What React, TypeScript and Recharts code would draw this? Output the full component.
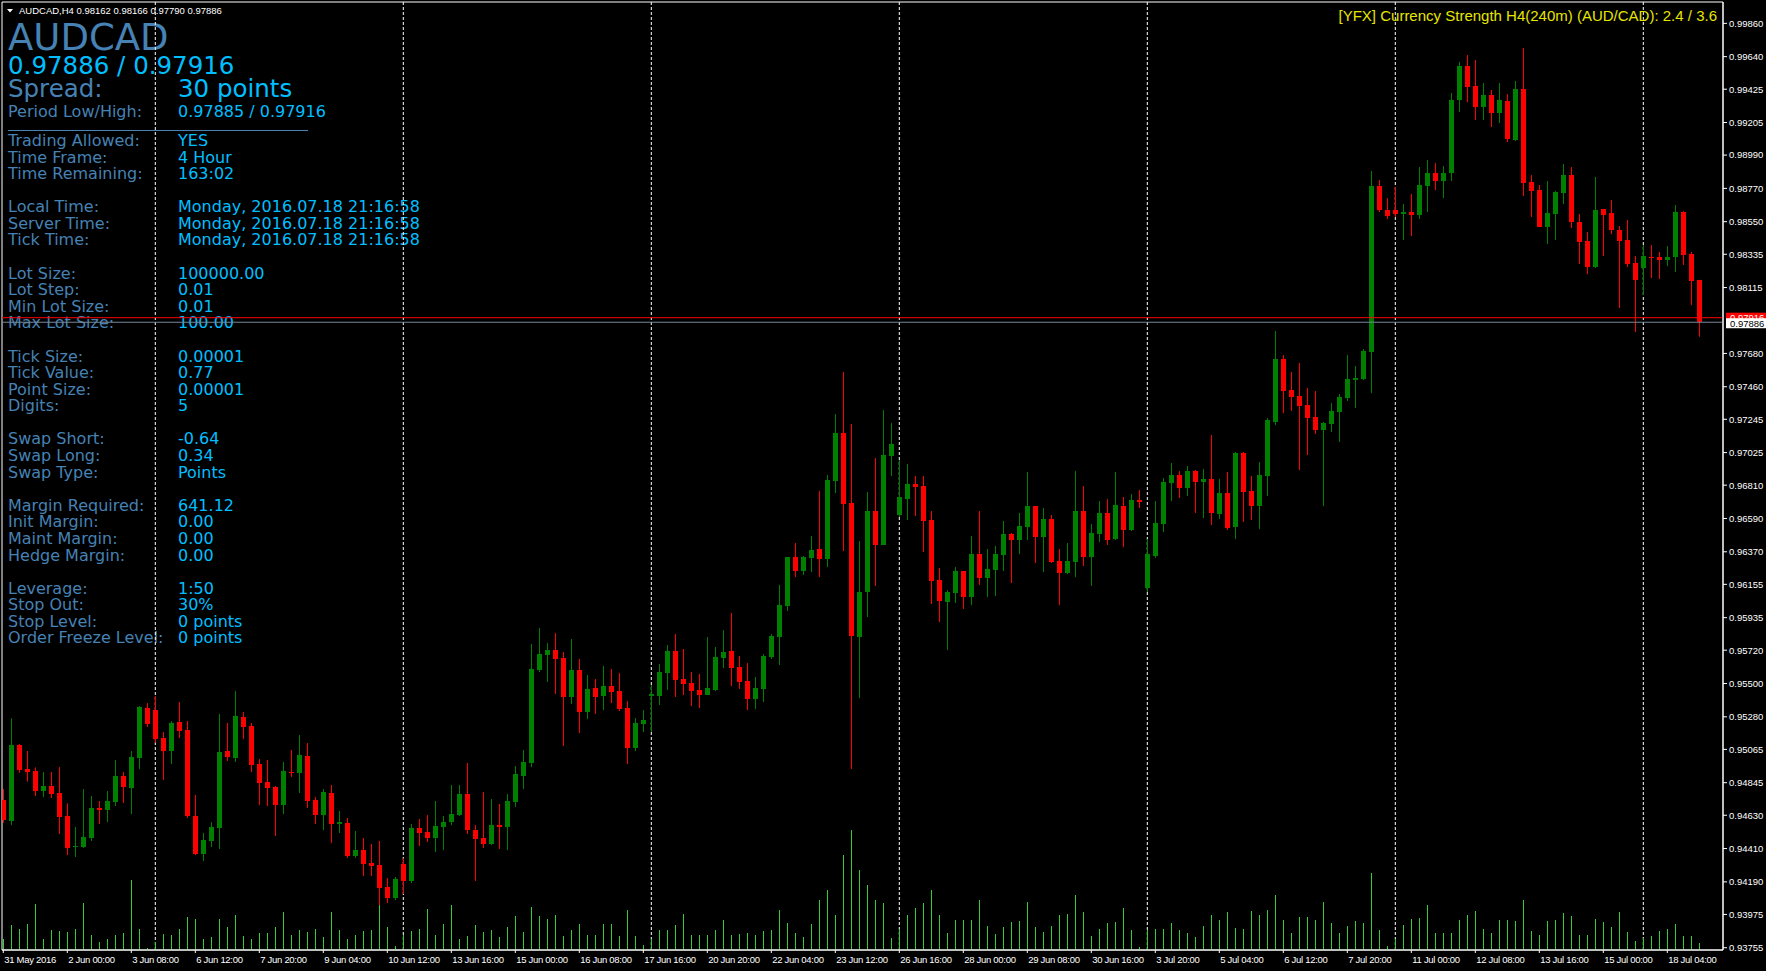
import { ComposedChart, Bar, XAxis, YAxis, ReferenceLine, ReferenceArea } from 'recharts';

// AUDCAD H4, 31 May – 18 Jul 2016 (one entry per 4h bar)
const opens = [
  0.94730, 0.94592, 0.95094, 0.94935, 0.94922, 0.94790, 0.94823, 0.94777, 0.94625, 0.94420,
  0.94420, 0.94480, 0.94680, 0.94664, 0.94717, 0.94889, 0.94810, 0.95008, 0.95338, 0.95325,
  0.95140, 0.95054, 0.95246, 0.95193, 0.94625, 0.94374, 0.94460, 0.94546, 0.95054, 0.95008,
  0.95279, 0.95219, 0.94968, 0.94849, 0.94816, 0.94698, 0.94915, 0.94909, 0.95021, 0.94730,
  0.94632, 0.94777, 0.94574, 0.94579, 0.94361, 0.94400, 0.94314, 0.94301, 0.94156, 0.94083,
  0.94308, 0.94196, 0.94546, 0.94519, 0.94480, 0.94552, 0.94585, 0.94631, 0.94770, 0.94532,
  0.94480, 0.94440, 0.94565, 0.94552, 0.94717, 0.94889, 0.94975, 0.95589, 0.95688, 0.95721,
  0.95668, 0.95411, 0.95589, 0.95312, 0.95470, 0.95417, 0.95483, 0.95450, 0.95338, 0.95074,
  0.95232, 0.95417, 0.95417, 0.95569, 0.95714, 0.95530, 0.95503, 0.95457, 0.95424, 0.95457,
  0.95668, 0.95715, 0.95609, 0.95517, 0.95398, 0.95464, 0.95675, 0.95807, 0.96012, 0.96335,
  0.96243, 0.96329, 0.96388, 0.96322, 0.96837, 0.97154, 0.96692, 0.95807, 0.96104, 0.96639,
  0.96415, 0.97002, 0.96613, 0.96718, 0.96818, 0.96804, 0.96580, 0.96184, 0.96038, 0.96098,
  0.96243, 0.96071, 0.96355, 0.96197, 0.96250, 0.96349, 0.96487, 0.96448, 0.96534, 0.96672,
  0.96467, 0.96586, 0.96309, 0.96230, 0.96302, 0.96639, 0.96335, 0.96487, 0.96626, 0.96454,
  0.96672, 0.96514, 0.96712, 0.96131, 0.96342, 0.96553, 0.96824, 0.96877, 0.96791, 0.96903,
  0.96831, 0.96851, 0.96619, 0.96758, 0.96534, 0.97022, 0.96771, 0.96672, 0.96870, 0.97227,
  0.97643, 0.97438, 0.97399, 0.97339, 0.97260, 0.97174, 0.97214, 0.97293, 0.97385, 0.97504,
  0.97511, 0.97689, 0.98786, 0.98627, 0.98627, 0.98603, 0.98614, 0.98594, 0.98786, 0.98871,
  0.98819, 0.98871, 0.99354, 0.99578, 0.99446, 0.99307, 0.99387, 0.99268, 0.99347, 0.99089,
  0.99426, 0.98812, 0.98759, 0.98515, 0.98601, 0.98739, 0.98858, 0.98548, 0.98422, 0.98251,
  0.98634, 0.98607, 0.98495, 0.98429, 0.98277, 0.98244, 0.98317, 0.98317, 0.98297, 0.98317,
  0.98614, 0.98336, 0.98162,
];

const highs = [
  0.94803, 0.95270, 0.95100, 0.95054, 0.94946, 0.94915, 0.94915, 0.94948, 0.94708, 0.94552,
  0.94803, 0.94757, 0.94724, 0.94790, 0.94995, 0.94915, 0.95054, 0.95351, 0.95371, 0.95417,
  0.95180, 0.95252, 0.95378, 0.95252, 0.94764, 0.94513, 0.94585, 0.95299, 0.95239, 0.95450,
  0.95312, 0.95239, 0.95001, 0.94995, 0.94823, 0.94982, 0.95061, 0.95160, 0.95107, 0.94750,
  0.94803, 0.94830, 0.94658, 0.94612, 0.94526, 0.94480, 0.94440, 0.94460, 0.94215, 0.94222,
  0.94345, 0.94572, 0.94605, 0.94631, 0.94724, 0.94625, 0.94830, 0.94830, 0.94975, 0.94565,
  0.94783, 0.94737, 0.94704, 0.94770, 0.94955, 0.95061, 0.95761, 0.95866, 0.95767, 0.95833,
  0.95708, 0.95794, 0.95662, 0.95556, 0.95530, 0.95616, 0.95596, 0.95569, 0.95384, 0.95272,
  0.95325, 0.95490, 0.95629, 0.95754, 0.95827, 0.95728, 0.95576, 0.95563, 0.95807, 0.95741,
  0.95853, 0.95966, 0.95682, 0.95635, 0.95543, 0.95695, 0.95827, 0.96151, 0.96335, 0.96428,
  0.96342, 0.96474, 0.96771, 0.96877, 0.97280, 0.97557, 0.97214, 0.96441, 0.96765, 0.96989,
  0.97306, 0.97220, 0.96976, 0.96950, 0.96870, 0.96870, 0.96639, 0.96263, 0.96117, 0.96269,
  0.96243, 0.96474, 0.96639, 0.96388, 0.96408, 0.96573, 0.96494, 0.96626, 0.96897, 0.96672,
  0.96659, 0.96613, 0.96388, 0.96428, 0.96903, 0.96804, 0.96553, 0.96705, 0.96718, 0.96897,
  0.96732, 0.96751, 0.96778, 0.96454, 0.96705, 0.96857, 0.96956, 0.96903, 0.96936, 0.96910,
  0.96917, 0.97141, 0.96851, 0.96897, 0.97029, 0.97029, 0.96870, 0.96963, 0.97253, 0.97828,
  0.97669, 0.97557, 0.97617, 0.97451, 0.97432, 0.97227, 0.97352, 0.97412, 0.97669, 0.97597,
  0.97709, 0.98885, 0.98825, 0.98706, 0.98779, 0.98667, 0.98733, 0.98911, 0.98957, 0.98937,
  0.98918, 0.99400, 0.99605, 0.99651, 0.99618, 0.99466, 0.99420, 0.99466, 0.99393, 0.99479,
  0.99697, 0.98858, 0.98792, 0.98819, 0.98753, 0.98931, 0.98911, 0.98601, 0.98482, 0.98845,
  0.98634, 0.98693, 0.98521, 0.98561, 0.98323, 0.98396, 0.98396, 0.98350, 0.98389, 0.98660,
  0.98620, 0.98350, 0.98166,
];

const lows = [
  0.94581, 0.94565, 0.94911, 0.94852, 0.94757, 0.94750, 0.94744, 0.94506, 0.94367, 0.94354,
  0.94414, 0.94460, 0.94572, 0.94585, 0.94691, 0.94711, 0.94638, 0.94935, 0.95213, 0.95109,
  0.94863, 0.94968, 0.95140, 0.94612, 0.94367, 0.94328, 0.94420, 0.94407, 0.94988, 0.94982,
  0.95133, 0.94915, 0.94698, 0.94691, 0.94493, 0.94638, 0.94883, 0.94777, 0.94678, 0.94572,
  0.94532, 0.94447, 0.94513, 0.94348, 0.94348, 0.94229, 0.94229, 0.94037, 0.94050, 0.94070,
  0.94110, 0.94182, 0.94427, 0.94453, 0.94387, 0.94400, 0.94565, 0.94625, 0.94506, 0.94196,
  0.94414, 0.94433, 0.94407, 0.94400, 0.94684, 0.94803, 0.94948, 0.95576, 0.95510, 0.95431,
  0.95087, 0.95365, 0.95173, 0.95265, 0.95299, 0.95325, 0.95371, 0.95318, 0.94968, 0.95054,
  0.95180, 0.95180, 0.95358, 0.95457, 0.95411, 0.95424, 0.95351, 0.95338, 0.95424, 0.95450,
  0.95602, 0.95483, 0.95464, 0.95325, 0.95332, 0.95378, 0.95662, 0.95622, 0.95979, 0.96203,
  0.96217, 0.96236, 0.96203, 0.96269, 0.96758, 0.96375, 0.94935, 0.95404, 0.95939, 0.96144,
  0.96415, 0.96870, 0.96600, 0.96580, 0.96606, 0.96368, 0.96025, 0.95906, 0.95721, 0.96032,
  0.95992, 0.96018, 0.96151, 0.96071, 0.96078, 0.96243, 0.96164, 0.96355, 0.96448, 0.96296,
  0.96236, 0.96296, 0.96018, 0.96223, 0.96203, 0.96276, 0.96144, 0.96434, 0.96415, 0.96448,
  0.96401, 0.96507, 0.96659, 0.96104, 0.96329, 0.96500, 0.96705, 0.96725, 0.96738, 0.96626,
  0.96593, 0.96547, 0.96586, 0.96514, 0.96454, 0.96567, 0.96580, 0.96520, 0.96738, 0.97207,
  0.97286, 0.97300, 0.96910, 0.97009, 0.97148, 0.96672, 0.97161, 0.97095, 0.97366, 0.97319,
  0.97504, 0.97418, 0.98614, 0.98568, 0.98581, 0.98429, 0.98455, 0.98568, 0.98614, 0.98759,
  0.98706, 0.98819, 0.99274, 0.99340, 0.99221, 0.99221, 0.99175, 0.99202, 0.99076, 0.99083,
  0.98720, 0.98581, 0.98515, 0.98403, 0.98429, 0.98667, 0.98508, 0.98270, 0.98204, 0.98244,
  0.98323, 0.98468, 0.97980, 0.98251, 0.97821, 0.98066, 0.98178, 0.98171, 0.98257, 0.98218,
  0.98264, 0.97999, 0.97790,
];

const closes = [
  0.94598, 0.95094, 0.94929, 0.94918, 0.94790, 0.94823, 0.94770, 0.94618, 0.94414, 0.94427,
  0.94486, 0.94678, 0.94667, 0.94724, 0.94889, 0.94816, 0.95014, 0.95345, 0.95232, 0.95133,
  0.95054, 0.95239, 0.95186, 0.94625, 0.94374, 0.94466, 0.94552, 0.95048, 0.95014, 0.95285,
  0.95213, 0.94962, 0.94843, 0.94810, 0.94698, 0.94922, 0.94909, 0.95028, 0.94724, 0.94632,
  0.94783, 0.94572, 0.94585, 0.94361, 0.94400, 0.94308, 0.94295, 0.94149, 0.94083, 0.94209,
  0.94196, 0.94546, 0.94513, 0.94480, 0.94559, 0.94585, 0.94638, 0.94770, 0.94532, 0.94473,
  0.94440, 0.94565, 0.94552, 0.94724, 0.94902, 0.94981, 0.95596, 0.95695, 0.95721, 0.95662,
  0.95411, 0.95589, 0.95312, 0.95464, 0.95411, 0.95483, 0.95444, 0.95332, 0.95074, 0.95239,
  0.95259, 0.95431, 0.95576, 0.95714, 0.95523, 0.95497, 0.95450, 0.95424, 0.95470, 0.95675,
  0.95708, 0.95602, 0.95510, 0.95398, 0.95470, 0.95682, 0.95814, 0.96018, 0.96335, 0.96243,
  0.96335, 0.96382, 0.96322, 0.96844, 0.97154, 0.96685, 0.95814, 0.96104, 0.96639, 0.96415,
  0.97009, 0.97082, 0.96732, 0.96818, 0.96798, 0.96573, 0.96177, 0.96045, 0.96104, 0.96243,
  0.96071, 0.96355, 0.96197, 0.96256, 0.96355, 0.96487, 0.96448, 0.96540, 0.96672, 0.96468,
  0.96586, 0.96302, 0.96230, 0.96309, 0.96639, 0.96335, 0.96494, 0.96626, 0.96448, 0.96679,
  0.96514, 0.96712, 0.96699, 0.96355, 0.96560, 0.96831, 0.96877, 0.96791, 0.96903, 0.96831,
  0.96851, 0.96626, 0.96758, 0.96527, 0.97022, 0.96765, 0.96672, 0.96877, 0.97240, 0.97643,
  0.97432, 0.97392, 0.97333, 0.97253, 0.97174, 0.97220, 0.97300, 0.97392, 0.97511, 0.97518,
  0.97696, 0.98786, 0.98627, 0.98590, 0.98601, 0.98614, 0.98594, 0.98792, 0.98871, 0.98819,
  0.98871, 0.99354, 0.99578, 0.99439, 0.99307, 0.99387, 0.99268, 0.99354, 0.99096, 0.99426,
  0.98805, 0.98753, 0.98515, 0.98607, 0.98746, 0.98858, 0.98548, 0.98416, 0.98251, 0.98627,
  0.98594, 0.98495, 0.98422, 0.98270, 0.98165, 0.98323, 0.98310, 0.98297, 0.98317, 0.98614,
  0.98330, 0.98158, 0.97886,
];

// tick volume per bar
const volumes = [
  440, 1000, 840, 1040, 1840, 440, 800, 760, 720, 840,
  1880, 600, 320, 440, 600, 680, 2800, 840, 80, 320,
  640, 600, 840, 1320, 1240, 440, 520, 1240, 920, 1400,
  560, 440, 680, 680, 920, 1520, 600, 800, 720, 840,
  520, 1520, 800, 440, 600, 760, 800, 1800, 920, 160,
  600, 760, 840, 1640, 600, 1040, 1800, 440, 560, 1000,
  720, 800, 520, 920, 1360, 720, 1720, 1360, 1240, 1400,
  560, 800, 1040, 600, 600, 1040, 1040, 560, 1600, 560,
  200, 440, 800, 800, 1000, 1440, 600, 600, 600, 800,
  1200, 600, 640, 680, 600, 760, 800, 1600, 1080, 680,
  520, 1040, 2000, 2400, 1400, 3800, 4800, 3200, 2600, 2000,
  1880, 480, 840, 1400, 1680, 1880, 2400, 1400, 680, 1200,
  1200, 1200, 2000, 960, 640, 920, 1120, 1160, 1920, 920,
  720, 960, 1400, 1440, 2200, 1520, 560, 840, 1080, 1120,
  1680, 800, 120, 800, 840, 840, 1080, 800, 680, 520,
  960, 1400, 1200, 1520, 880, 840, 1560, 1400, 1600, 2200,
  1200, 680, 1320, 1320, 1200, 1920, 1080, 680, 960, 1160,
  1080, 3080, 800, 160, 440, 1000, 1240, 1280, 1800, 680,
  680, 680, 1200, 1400, 1560, 840, 680, 1200, 1200, 1160,
  2000, 760, 600, 1160, 1200, 1480, 1360, 600, 600, 1240,
  1120, 920, 1520, 720, 360, 480, 560, 760, 840, 1040,
  560, 560, 280,
];

// one time label every 8 bars
const timeLabels = [
  '31 May 2016', '2 Jun 00:00', '3 Jun 08:00', '6 Jun 12:00', '7 Jun 20:00', '9 Jun 04:00',
  '10 Jun 12:00', '13 Jun 16:00', '15 Jun 00:00', '16 Jun 08:00', '17 Jun 16:00', '20 Jun 20:00',
  '22 Jun 04:00', '23 Jun 12:00', '26 Jun 16:00', '28 Jun 00:00', '29 Jun 08:00', '30 Jun 16:00',
  '3 Jul 20:00', '5 Jul 04:00', '6 Jul 12:00', '7 Jul 20:00', '11 Jul 00:00', '12 Jul 08:00',
  '13 Jul 16:00', '15 Jul 00:00', '18 Jul 04:00',
];

const priceTicks = [
  0.99860, 0.99640, 0.99425, 0.99205, 0.98990, 0.98770, 0.98550, 0.98335, 0.98115,
  0.97680, 0.97460, 0.97245, 0.97025, 0.96810, 0.96590, 0.96370, 0.96155, 0.95935,
  0.95720, 0.95500, 0.95280, 0.95065, 0.94845, 0.94630, 0.94410, 0.94190, 0.93975, 0.93755,
];

// bar indexes where a new week starts (dotted separators)
const weekStarts = [19, 50, 81, 112, 143, 174, 205];

const BID = 0.97886;
const ASK = 0.97916;

const infoGroups: [string, string][][] = [
  [['Trading Allowed:', 'YES'], ['Time Frame:', '4 Hour'], ['Time Remaining:', '163:02']],
  [
    ['Local Time:', 'Monday, 2016.07.18 21:16:58'],
    ['Server Time:', 'Monday, 2016.07.18 21:16:58'],
    ['Tick Time:', 'Monday, 2016.07.18 21:16:58'],
  ],
  [['Lot Size:', '100000.00'], ['Lot Step:', '0.01'], ['Min Lot Size:', '0.01'], ['Max Lot Size:', '100.00']],
  [['Tick Size:', '0.00001'], ['Tick Value:', '0.77'], ['Point Size:', '0.00001'], ['Digits:', '5']],
  [['Swap Short:', '-0.64'], ['Swap Long:', '0.34'], ['Swap Type:', 'Points']],
  [['Margin Required:', '641.12'], ['Init Margin:', '0.00'], ['Maint Margin:', '0.00'], ['Hedge Margin:', '0.00']],
  [['Leverage:', '1:50'], ['Stop Out:', '30%'], ['Stop Level:', '0 points'], ['Order Freeze Level:', '0 points']],
];

const candles = opens.map((open, i) => ({
  i,
  open,
  high: highs[i],
  low: lows[i],
  close: closes[i],
  range: [lows[i], highs[i]],
  volume: volumes[i],
}));

const W = 1766;
const H = 971;
const X_DOMAIN: [number, number] = [-0.1625, 214.9625];
const P_DOMAIN: [number, number] = [0.9374, 1.00001];
const BULL = '#008000';
const BEAR = '#ff0000';
const LABEL = '#4682b4';
const VALUE = '#00bfff';
const AXIS_FONT = '"Liberation Sans", Arial, sans-serif';
const INFO_FONT = '"DejaVu Sans", Verdana, sans-serif';

const CandleShape = (props: any) => {
  const { x, y, width, height, payload } = props;
  if (payload == null) return null;
  const { open, close, high, low } = payload;
  const top = Math.min(y, y + height);
  const h = Math.abs(height);
  const cx = Math.round(x + width / 2);
  const k = high - low > 0 ? h / (high - low) : 0;
  const yo = top + (high - open) * k;
  const yc = top + (high - close) * k;
  const color = close >= open ? BULL : BEAR;
  const bodyTop = Math.round(Math.min(yo, yc));
  const bodyH = Math.max(1, Math.round(Math.abs(yc - yo)));
  return (
    <g>
      <line x1={cx + 0.5} x2={cx + 0.5} y1={top} y2={top + h} stroke={color} strokeWidth={1} />
      <rect x={cx - 2} y={bodyTop} width={5} height={bodyH} fill={color} />
    </g>
  );
};

const VolumeShape = (props: any) => {
  const { x, y, width, height } = props;
  const cx = Math.round(x + width / 2);
  return <line x1={cx + 0.5} x2={cx + 0.5} y1={y} y2={y + height} stroke="#32cd32" strokeWidth={1} />;
};

const TimeTick = (props: any) => {
  const { x, y, payload } = props;
  const label = timeLabels[Math.round(payload.value / 8)];
  return (
    <text x={x + 1} y={y + 8} fill="#ffffff" fontSize={9.5} fontFamily={AXIS_FONT} letterSpacing={-0.3} textAnchor="start">
      {label}
    </text>
  );
};

const PriceTag = (props: any) => {
  const { viewBox, bg, fg, text, dy } = props;
  if (!viewBox) return null;
  const x = viewBox.x + viewBox.width + 3;
  const y = viewBox.y;
  return (
    <g>
      <rect x={x} y={y - 5 + dy} width={43} height={10} fill={bg} />
      <text x={x + 4} y={y + 3.5 + dy} fill={fg} fontSize={9.5} fontFamily={AXIS_FONT}>
        {text}
      </text>
    </g>
  );
};

function InfoPanel() {
  const rows: { label: string; value: string; slot: number }[] = [];
  let slot = 0;
  infoGroups.forEach((group, g) => {
    if (g > 0) slot += 1;
    group.forEach(([label, value]) => {
      rows.push({ label, value, slot });
      slot += 1;
    });
  });
  return (
    <svg width={W} height={H} style={{ position: 'absolute', left: 0, top: 0 }}>
      <g fontFamily={INFO_FONT}>
        <text x={8} y={50} fill={LABEL} fontSize={37}>AUDCAD</text>
        <text x={8} y={74} fill={VALUE} fontSize={24.5}>0.97886 / 0.97916</text>
        <text x={8} y={97} fill={LABEL} fontSize={24.5}>Spread:</text>
        <text x={178} y={97} fill={VALUE} fontSize={24.5}>30 points</text>
        <text x={8} y={117} fill={LABEL} fontSize={16}>Period Low/High:</text>
        <text x={178} y={117} fill={VALUE} fontSize={16}>0.97885 / 0.97916</text>
        <line x1={8} x2={308} y1={130.5} y2={130.5} stroke={LABEL} strokeWidth={1} />
        {rows.map((r) => (
          <g key={r.label}>
            <text x={8} y={146 + r.slot * 16.58} fill={LABEL} fontSize={16}>{r.label}</text>
            <text x={178} y={146 + r.slot * 16.58} fill={VALUE} fontSize={16}>{r.value}</text>
          </g>
        ))}
      </g>
    </svg>
  );
}

// week separators sit behind the candles, on a chart with the same plot area
function Separators() {
  return (
    <div style={{ position: 'absolute', left: 0, top: 0 }}>
      <ComposedChart width={W} height={H} data={candles} margin={{ top: 2, right: 43, bottom: 21, left: 2 }}>
        <XAxis dataKey="i" type="number" domain={X_DOMAIN} allowDataOverflow hide />
        <YAxis type="number" domain={P_DOMAIN} allowDataOverflow hide />
        {weekStarts.map((w) => (
          <ReferenceLine key={w} x={w} stroke="#ffffff" strokeDasharray="3 2" strokeWidth={1} />
        ))}
      </ComposedChart>
    </div>
  );
}

export default function App() {
  return (
    <div style={{ position: 'absolute', left: 0, top: 0, width: W, height: H, background: '#000', overflow: 'hidden' }}>
      <InfoPanel />
      <Separators />
      <div style={{ position: 'absolute', left: 0, top: 0 }}>
        <ComposedChart width={W} height={H} data={candles} margin={{ top: 2, right: 0, bottom: 0, left: 2 }}>
          <XAxis
            dataKey="i"
            type="number"
            domain={X_DOMAIN}
            allowDataOverflow
            ticks={timeLabels.map((_, k) => k * 8)}
            interval={0}
            height={21}
            axisLine={{ stroke: '#ffffff' }}
            tickLine={{ stroke: '#ffffff' }}
            tickSize={3}
            tick={<TimeTick />}
          />
          <XAxis xAxisId="v" dataKey="i" type="number" domain={X_DOMAIN} allowDataOverflow hide />
          <YAxis
            yAxisId="price"
            orientation="right"
            type="number"
            domain={P_DOMAIN}
            allowDataOverflow
            ticks={priceTicks}
            interval={0}
            width={43}
            axisLine={{ stroke: '#ffffff' }}
            tickLine={{ stroke: '#ffffff' }}
            tickSize={4}
            tickMargin={2}
            tick={{ fill: '#ffffff', fontSize: 9.5, fontFamily: AXIS_FONT }}
            tickFormatter={(v: number) => v.toFixed(5)}
          />
          <YAxis yAxisId="vol" type="number" domain={[0, 37920]} allowDataOverflow hide />
          <ReferenceArea
            yAxisId="price"
            x1={X_DOMAIN[0]}
            x2={X_DOMAIN[1]}
            y1={P_DOMAIN[0]}
            y2={P_DOMAIN[1]}
            fill="none"
            stroke="#ffffff"
            strokeWidth={1}
            ifOverflow="visible"
          />
          <Bar
            xAxisId="v"
            yAxisId="vol"
            dataKey="volume"
            barSize={1}
            shape={<VolumeShape />}
            isAnimationActive={false}
          />
          <Bar
            yAxisId="price"
            dataKey="range"
            barSize={5}
            shape={<CandleShape />}
            isAnimationActive={false}
          />
          <ReferenceLine
            yAxisId="price"
            y={ASK}
            stroke="#ff0000"
            strokeWidth={1}
            label={<PriceTag bg="#ff0000" fg="#ffffff" text={ASK.toFixed(5)} dy={0} />}
          />
          <ReferenceLine
            yAxisId="price"
            y={BID}
            stroke="#778899"
            strokeWidth={1}
            label={<PriceTag bg="#ffffff" fg="#000000" text={BID.toFixed(5)} dy={1} />}
          />
        </ComposedChart>
      </div>
      <svg width={W} height={40} style={{ position: 'absolute', left: 0, top: 0, pointerEvents: 'none' }}>
        <path d="M7 9 L13 9 L10 12.5 Z" fill="#ffffff" />
        <text x={19} y={14} fill="#ffffff" fontSize={9.5} fontFamily={AXIS_FONT}>
          AUDCAD,H4  0.98162 0.98166 0.97790 0.97886
        </text>
        <text x={1717} y={21} fill="#e6e600" fontSize={15} fontFamily={AXIS_FONT} textAnchor="end">
          [YFX] Currency Strength H4(240m) (AUD/CAD): 2.4 / 3.6
        </text>
      </svg>
    </div>
  );
}
